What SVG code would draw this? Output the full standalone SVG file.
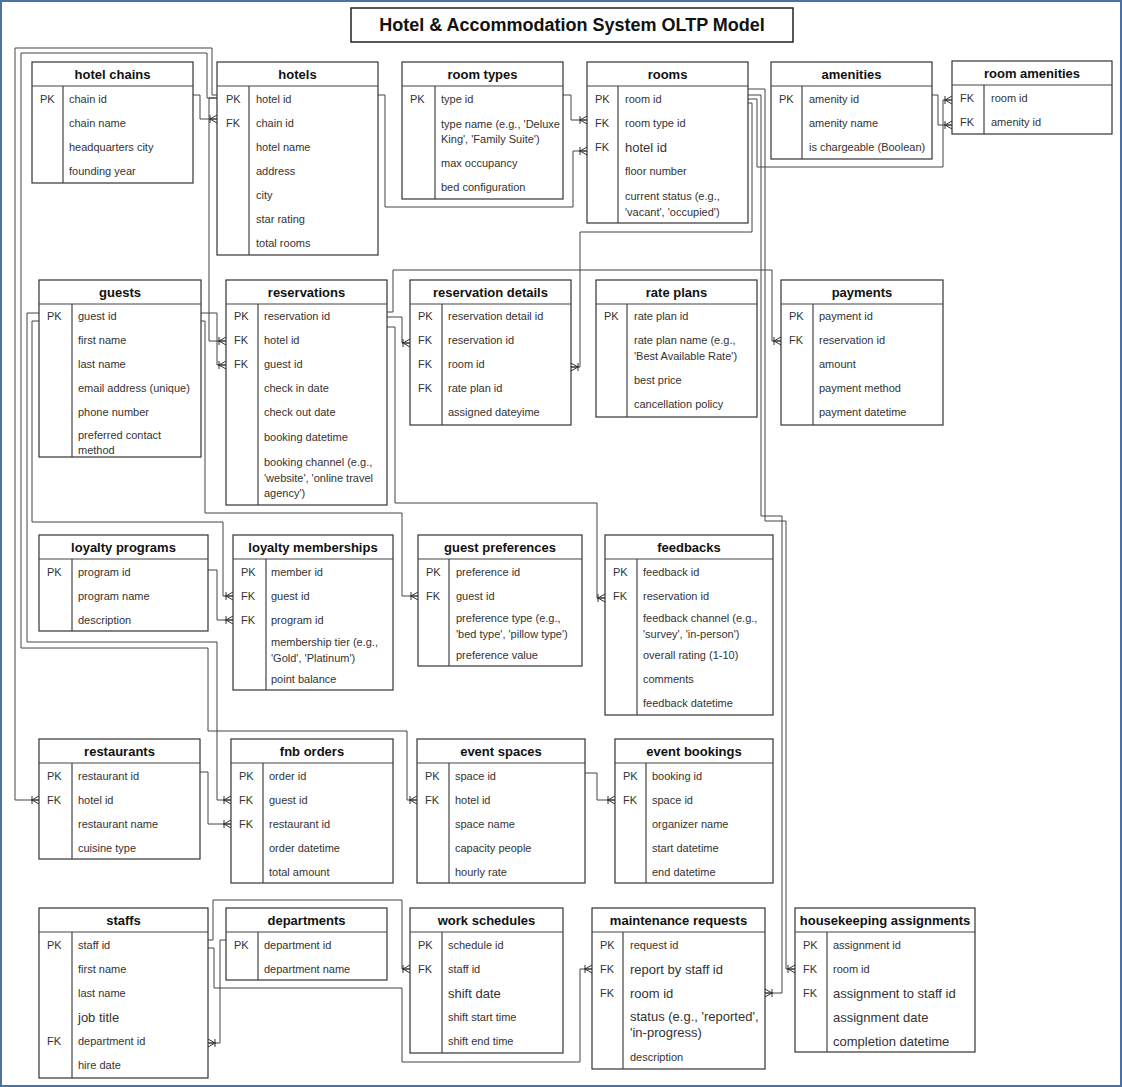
<svg xmlns="http://www.w3.org/2000/svg" width="1122" height="1087" viewBox="0 0 1122 1087">
<defs>
<style>
.frame{fill:#fff;stroke:#4a73a3;stroke-width:2}
.tb{fill:#fff;stroke:#222;stroke-width:1.5}
.ttl{font-family:"Liberation Sans",Arial,sans-serif;font-size:18px;font-weight:bold;fill:#111;text-anchor:middle}
.box{fill:#fff;stroke:#333;stroke-width:1.2}
.sep{stroke:#444;stroke-width:1.2}
.hd{font-family:"Liberation Sans",Arial,sans-serif;font-size:13px;font-weight:bold;fill:#111;text-anchor:middle}
.k{font-family:"Liberation Sans",Arial,sans-serif;font-size:11px;fill:#333}
.t{font-family:"Liberation Sans",Arial,sans-serif;font-size:11px;fill:#333}
.L{font-size:13px}
.c{fill:none;stroke:#444;stroke-width:1;marker-end:url(#crow)}
</style>
<marker id="crow" markerUnits="userSpaceOnUse" markerWidth="12" markerHeight="12" refX="10" refY="6" orient="auto">
<path d="M2,6 H10 M3,6 L10,2 M3,6 L10,10 M3,2 V10" fill="none" stroke="#333" stroke-width="1"/>
</marker>
</defs>
<rect class="frame" x="1" y="1" width="1120" height="1085"/>
<g id="title">
<rect class="tb" x="351" y="8" width="442" height="34"/>
<text class="ttl" x="572" y="31">Hotel &amp; Accommodation System OLTP Model</text>
</g>
<g id="connectors">
<path class="c" d="M193,95 H200 V119 H217"/>
<path class="c" d="M217,95 H212 V48 H15 V800 H39"/>
<path class="c" d="M217,98 H207 V53 H21 V648 H208 V731 H407 V800 H417"/>
<path class="c" d="M217,98 H209 V341 H226"/>
<path class="c" d="M378,95 H385 V207 H573 V151 H587"/>
<path class="c" d="M563,95 H571 V120 H587"/>
<path class="c" d="M748,103 H752 V232 H580 V367 H571"/>
<path class="c" d="M748,99 H757 V167 H943 V100 H952"/>
<path class="c" d="M932,95 H938 V125 H952"/>
<path class="c" d="M748,95 H761 V516 H782 V993 H765"/>
<path class="c" d="M748,89 H765 V521 H786 V969 H795"/>
<path class="c" d="M387,317 H402 V343 H410"/>
<path class="c" d="M387,312 H393 V270 H772 V341 H781"/>
<path class="c" d="M387,327 H395 V503 H597 V598 H605"/>
<path class="c" d="M201,313 H217 V365 H226"/>
<path class="c" d="M201,321 H205 V513 H402 V596 H418"/>
<path class="c" d="M39,321 H32 V522 H223 V596 H233"/>
<path class="c" d="M39,313 H27 V642 H217 V800 H231"/>
<path class="c" d="M208,570 H217 V620 H233"/>
<path class="c" d="M200,772 H208 V824 H231"/>
<path class="c" d="M585,773 H597 V800 H615"/>
<path class="c" d="M208,940 H213 V900 H402 V969 H410"/>
<path class="c" d="M208,948 H214 V988 H402 V1062 H580 V969 H592"/>
<path class="c" d="M226,940 H220 V1043 H208"/>
</g>

<g id="hotel_chains">
<rect class="box" x="32" y="62" width="161" height="121"/>
<line class="sep" x1="32" y1="86" x2="193" y2="86"/><line class="sep" x1="63" y1="86" x2="63" y2="183"/>
<text class="hd" x="112.5" y="79">hotel chains</text>
<text class="k" x="40" y="103">PK</text>
<text class="t" x="69" y="103">chain id</text>
<text class="t" x="69" y="127">chain name</text>
<text class="t" x="69" y="151">headquarters city</text>
<text class="t" x="69" y="175">founding year</text>
</g>

<g id="hotels">
<rect class="box" x="217" y="62" width="161" height="193"/>
<line class="sep" x1="217" y1="86" x2="378" y2="86"/><line class="sep" x1="249" y1="86" x2="249" y2="255"/>
<text class="hd" x="297.5" y="79">hotels</text>
<text class="k" x="226" y="103">PK</text><text class="t" x="256" y="103">hotel id</text>
<text class="k" x="226" y="127">FK</text><text class="t" x="256" y="127">chain id</text>
<text class="t" x="256" y="151">hotel name</text>
<text class="t" x="256" y="175">address</text>
<text class="t" x="256" y="199">city</text>
<text class="t" x="256" y="223">star rating</text>
<text class="t" x="256" y="247">total rooms</text>
</g>

<g id="room_types">
<rect class="box" x="402" y="62" width="161" height="137"/>
<line class="sep" x1="402" y1="86" x2="563" y2="86"/><line class="sep" x1="435" y1="86" x2="435" y2="199"/>
<text class="hd" x="482.5" y="79">room types</text>
<text class="k" x="410" y="103">PK</text><text class="t" x="441" y="103">type id</text>
<text class="t" x="441" y="128">type name (e.g., 'Deluxe</text>
<text class="t" x="441" y="143">King', 'Family Suite')</text>
<text class="t" x="441" y="167">max occupancy</text>
<text class="t" x="441" y="191">bed configuration</text>
</g>

<g id="rooms">
<rect class="box" x="587" y="62" width="161" height="161"/>
<line class="sep" x1="587" y1="86" x2="748" y2="86"/><line class="sep" x1="618" y1="86" x2="618" y2="223"/>
<text class="hd" x="667.5" y="79">rooms</text>
<text class="k" x="595" y="103">PK</text><text class="t" x="625" y="103">room id</text>
<text class="k" x="595" y="127">FK</text><text class="t" x="625" y="127">room type id</text>
<text class="k" x="595" y="151">FK</text><text class="t L" x="625" y="152">hotel id</text>
<text class="t" x="625" y="175">floor number</text>
<text class="t" x="625" y="200">current status (e.g.,</text>
<text class="t" x="625" y="216">'vacant', 'occupied')</text>
</g>

<g id="amenities">
<rect class="box" x="771" y="62" width="161" height="97"/>
<line class="sep" x1="771" y1="86" x2="932" y2="86"/><line class="sep" x1="802" y1="86" x2="802" y2="159"/>
<text class="hd" x="851.5" y="79">amenities</text>
<text class="k" x="779" y="103">PK</text><text class="t" x="809" y="103">amenity id</text>
<text class="t" x="809" y="127">amenity name</text>
<text class="t" x="809" y="151">is chargeable (Boolean)</text>
</g>

<g id="room_amenities">
<rect class="box" x="952" y="61" width="160" height="73"/>
<line class="sep" x1="952" y1="85" x2="1112" y2="85"/><line class="sep" x1="984" y1="85" x2="984" y2="134"/>
<text class="hd" x="1032" y="78">room amenities</text>
<text class="k" x="960" y="102">FK</text><text class="t" x="991" y="102">room id</text>
<text class="k" x="960" y="126">FK</text><text class="t" x="991" y="126">amenity id</text>
</g>

<g id="guests">
<rect class="box" x="39" y="280" width="162" height="177"/>
<line class="sep" x1="39" y1="304" x2="201" y2="304"/><line class="sep" x1="72" y1="304" x2="72" y2="457"/>
<text class="hd" x="120" y="297">guests</text>
<text class="k" x="47" y="320">PK</text><text class="t" x="78" y="320">guest id</text>
<text class="t" x="78" y="344">first name</text>
<text class="t" x="78" y="368">last name</text>
<text class="t" x="78" y="392">email address (unique)</text>
<text class="t" x="78" y="416">phone number</text>
<text class="t" x="78" y="439">preferred contact</text>
<text class="t" x="78" y="454">method</text>
</g>

<g id="reservations">
<rect class="box" x="226" y="280" width="161" height="225"/>
<line class="sep" x1="226" y1="304" x2="387" y2="304"/><line class="sep" x1="258" y1="304" x2="258" y2="505"/>
<text class="hd" x="306.5" y="297">reservations</text>
<text class="k" x="234" y="320">PK</text><text class="t" x="264" y="320">reservation id</text>
<text class="k" x="234" y="344">FK</text><text class="t" x="264" y="344">hotel id</text>
<text class="k" x="234" y="368">FK</text><text class="t" x="264" y="368">guest id</text>
<text class="t" x="264" y="392">check in date</text>
<text class="t" x="264" y="416">check out date</text>
<text class="t" x="264" y="441">booking datetime</text>
<text class="t" x="264" y="466">booking channel (e.g.,</text>
<text class="t" x="264" y="482">'website', 'online travel</text>
<text class="t" x="264" y="497">agency')</text>
</g>

<g id="reservation_details">
<rect class="box" x="410" y="280" width="161" height="145"/>
<line class="sep" x1="410" y1="304" x2="571" y2="304"/><line class="sep" x1="442" y1="304" x2="442" y2="425"/>
<text class="hd" x="490.5" y="297">reservation details</text>
<text class="k" x="418" y="320">PK</text><text class="t" x="448" y="320">reservation detail id</text>
<text class="k" x="418" y="344">FK</text><text class="t" x="448" y="344">reservation id</text>
<text class="k" x="418" y="368">FK</text><text class="t" x="448" y="368">room id</text>
<text class="k" x="418" y="392">FK</text><text class="t" x="448" y="392">rate plan id</text>
<text class="t" x="448" y="416">assigned dateyime</text>
</g>

<g id="rate_plans">
<rect class="box" x="596" y="280" width="161" height="137"/>
<line class="sep" x1="596" y1="304" x2="757" y2="304"/><line class="sep" x1="627" y1="304" x2="627" y2="417"/>
<text class="hd" x="676.5" y="297">rate plans</text>
<text class="k" x="604" y="320">PK</text><text class="t" x="634" y="320">rate plan id</text>
<text class="t" x="634" y="344">rate plan name (e.g.,</text>
<text class="t" x="634" y="360">'Best Available Rate')</text>
<text class="t" x="634" y="384">best price</text>
<text class="t" x="634" y="408">cancellation policy</text>
</g>

<g id="payments">
<rect class="box" x="781" y="280" width="162" height="145"/>
<line class="sep" x1="781" y1="304" x2="943" y2="304"/><line class="sep" x1="813" y1="304" x2="813" y2="425"/>
<text class="hd" x="862" y="297">payments</text>
<text class="k" x="789" y="320">PK</text><text class="t" x="819" y="320">payment id</text>
<text class="k" x="789" y="344">FK</text><text class="t" x="819" y="344">reservation id</text>
<text class="t" x="819" y="368">amount</text>
<text class="t" x="819" y="392">payment method</text>
<text class="t" x="819" y="416">payment datetime</text>
</g>

<g id="loyalty_programs">
<rect class="box" x="39" y="535" width="169" height="96"/>
<line class="sep" x1="39" y1="559" x2="208" y2="559"/><line class="sep" x1="72" y1="559" x2="72" y2="631"/>
<text class="hd" x="123.5" y="552">loyalty programs</text>
<text class="k" x="47" y="576">PK</text><text class="t" x="78" y="576">program id</text>
<text class="t" x="78" y="600">program name</text>
<text class="t" x="78" y="624">description</text>
</g>

<g id="loyalty_memberships">
<rect class="box" x="233" y="535" width="160" height="155"/>
<line class="sep" x1="233" y1="559" x2="393" y2="559"/><line class="sep" x1="266" y1="559" x2="266" y2="690"/>
<text class="hd" x="313" y="552">loyalty memberships</text>
<text class="k" x="241" y="576">PK</text><text class="t" x="271" y="576">member id</text>
<text class="k" x="241" y="600">FK</text><text class="t" x="271" y="600">guest id</text>
<text class="k" x="241" y="624">FK</text><text class="t" x="271" y="624">program id</text>
<text class="t" x="271" y="646">membership tier (e.g.,</text>
<text class="t" x="271" y="662">'Gold', 'Platinum')</text>
<text class="t" x="271" y="683">point balance</text>
</g>

<g id="guest_preferences">
<rect class="box" x="418" y="535" width="164" height="131"/>
<line class="sep" x1="418" y1="559" x2="582" y2="559"/><line class="sep" x1="449" y1="559" x2="449" y2="666"/>
<text class="hd" x="500" y="552">guest preferences</text>
<text class="k" x="426" y="576">PK</text><text class="t" x="456" y="576">preference id</text>
<text class="k" x="426" y="600">FK</text><text class="t" x="456" y="600">guest id</text>
<text class="t" x="456" y="622">preference type (e.g.,</text>
<text class="t" x="456" y="638">'bed type', 'pillow type')</text>
<text class="t" x="456" y="659">preference value</text>
</g>

<g id="feedbacks">
<rect class="box" x="605" y="535" width="168" height="180"/>
<line class="sep" x1="605" y1="559" x2="773" y2="559"/><line class="sep" x1="637" y1="559" x2="637" y2="715"/>
<text class="hd" x="689" y="552">feedbacks</text>
<text class="k" x="613" y="576">PK</text><text class="t" x="643" y="576">feedback id</text>
<text class="k" x="613" y="600">FK</text><text class="t" x="643" y="600">reservation id</text>
<text class="t" x="643" y="622">feedback channel (e.g.,</text>
<text class="t" x="643" y="638">'survey', 'in-person')</text>
<text class="t" x="643" y="659">overall rating (1-10)</text>
<text class="t" x="643" y="683">comments</text>
<text class="t" x="643" y="707">feedback datetime</text>
</g>

<g id="restaurants">
<rect class="box" x="39" y="739" width="161" height="120"/>
<line class="sep" x1="39" y1="763" x2="200" y2="763"/><line class="sep" x1="72" y1="763" x2="72" y2="859"/>
<text class="hd" x="119.5" y="756">restaurants</text>
<text class="k" x="47" y="780">PK</text><text class="t" x="78" y="780">restaurant id</text>
<text class="k" x="47" y="804">FK</text><text class="t" x="78" y="804">hotel id</text>
<text class="t" x="78" y="828">restaurant name</text>
<text class="t" x="78" y="852">cuisine type</text>
</g>

<g id="fnb_orders">
<rect class="box" x="231" y="739" width="162" height="144"/>
<line class="sep" x1="231" y1="763" x2="393" y2="763"/><line class="sep" x1="263" y1="763" x2="263" y2="883"/>
<text class="hd" x="312" y="756">fnb orders</text>
<text class="k" x="239" y="780">PK</text><text class="t" x="269" y="780">order id</text>
<text class="k" x="239" y="804">FK</text><text class="t" x="269" y="804">guest id</text>
<text class="k" x="239" y="828">FK</text><text class="t" x="269" y="828">restaurant id</text>
<text class="t" x="269" y="852">order datetime</text>
<text class="t" x="269" y="876">total amount</text>
</g>

<g id="event_spaces">
<rect class="box" x="417" y="739" width="168" height="144"/>
<line class="sep" x1="417" y1="763" x2="585" y2="763"/><line class="sep" x1="449" y1="763" x2="449" y2="883"/>
<text class="hd" x="501" y="756">event spaces</text>
<text class="k" x="425" y="780">PK</text><text class="t" x="455" y="780">space id</text>
<text class="k" x="425" y="804">FK</text><text class="t" x="455" y="804">hotel id</text>
<text class="t" x="455" y="828">space name</text>
<text class="t" x="455" y="852">capacity people</text>
<text class="t" x="455" y="876">hourly rate</text>
</g>

<g id="event_bookings">
<rect class="box" x="615" y="739" width="158" height="144"/>
<line class="sep" x1="615" y1="763" x2="773" y2="763"/><line class="sep" x1="646" y1="763" x2="646" y2="883"/>
<text class="hd" x="694" y="756">event bookings</text>
<text class="k" x="623" y="780">PK</text><text class="t" x="652" y="780">booking id</text>
<text class="k" x="623" y="804">FK</text><text class="t" x="652" y="804">space id</text>
<text class="t" x="652" y="828">organizer name</text>
<text class="t" x="652" y="852">start datetime</text>
<text class="t" x="652" y="876">end datetime</text>
</g>

<g id="staffs">
<rect class="box" x="39" y="908" width="169" height="170"/>
<line class="sep" x1="39" y1="932" x2="208" y2="932"/><line class="sep" x1="72" y1="932" x2="72" y2="1078"/>
<text class="hd" x="123.5" y="925">staffs</text>
<text class="k" x="47" y="949">PK</text><text class="t" x="78" y="949">staff id</text>
<text class="t" x="78" y="973">first name</text>
<text class="t" x="78" y="997">last name</text>
<text class="t L" x="78" y="1022">job title</text>
<text class="k" x="47" y="1045">FK</text><text class="t" x="78" y="1045">department id</text>
<text class="t" x="78" y="1069">hire date</text>
</g>

<g id="departments">
<rect class="box" x="226" y="908" width="161" height="72"/>
<line class="sep" x1="226" y1="932" x2="387" y2="932"/><line class="sep" x1="258" y1="932" x2="258" y2="980"/>
<text class="hd" x="306.5" y="925">departments</text>
<text class="k" x="234" y="949">PK</text><text class="t" x="264" y="949">department id</text>
<text class="t" x="264" y="973">department name</text>
</g>

<g id="work_schedules">
<rect class="box" x="410" y="908" width="153" height="145"/>
<line class="sep" x1="410" y1="932" x2="563" y2="932"/><line class="sep" x1="442" y1="932" x2="442" y2="1053"/>
<text class="hd" x="486.5" y="925">work schedules</text>
<text class="k" x="418" y="949">PK</text><text class="t" x="448" y="949">schedule id</text>
<text class="k" x="418" y="973">FK</text><text class="t" x="448" y="973">staff id</text>
<text class="t L" x="448" y="998">shift date</text>
<text class="t" x="448" y="1021">shift start time</text>
<text class="t" x="448" y="1045">shift end time</text>
</g>

<g id="maintenance_requests">
<rect class="box" x="592" y="908" width="173" height="161"/>
<line class="sep" x1="592" y1="932" x2="765" y2="932"/><line class="sep" x1="623" y1="932" x2="623" y2="1069"/>
<text class="hd" x="678.5" y="925">maintenance requests</text>
<text class="k" x="600" y="949">PK</text><text class="t" x="630" y="949">request id</text>
<text class="k" x="600" y="973">FK</text><text class="t L" x="630" y="974">report by staff id</text>
<text class="k" x="600" y="997">FK</text><text class="t L" x="630" y="998">room id</text>
<text class="t L" x="630" y="1021">status (e.g., 'reported',</text>
<text class="t L" x="630" y="1037">'in-progress)</text>
<text class="t" x="630" y="1061">description</text>
</g>

<g id="housekeeping_assignments">
<rect class="box" x="795" y="908" width="180" height="144"/>
<line class="sep" x1="795" y1="932" x2="975" y2="932"/><line class="sep" x1="827" y1="932" x2="827" y2="1052"/>
<text class="hd" x="885" y="925">housekeeping assignments</text>
<text class="k" x="803" y="949">PK</text><text class="t" x="833" y="949">assignment id</text>
<text class="k" x="803" y="973">FK</text><text class="t" x="833" y="973">room id</text>
<text class="k" x="803" y="997">FK</text><text class="t L" x="833" y="998">assignment to staff id</text>
<text class="t L" x="833" y="1022">assignment date</text>
<text class="t L" x="833" y="1046">completion datetime</text>
</g>
</svg>
